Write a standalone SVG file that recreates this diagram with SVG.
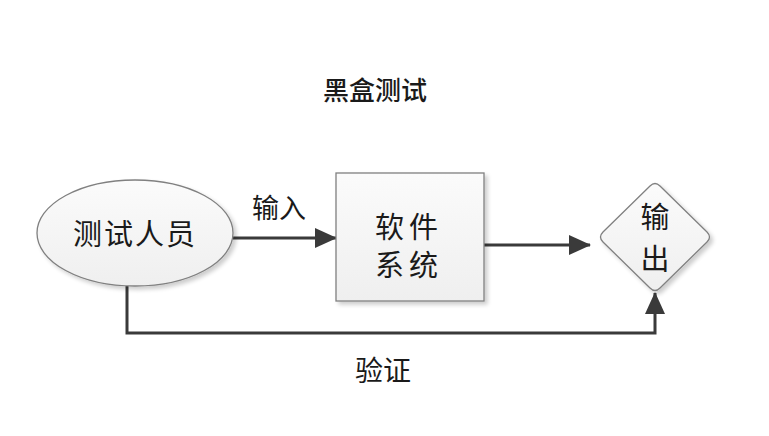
<svg xmlns="http://www.w3.org/2000/svg" width="769" height="436" viewBox="0 0 769 436">
<style>
.shape{fill:url(#g);stroke:#808080;stroke-width:1.3}
.lbl{font-family:"Noto Sans CJK SC","Noto Sans",sans-serif;fill:#1a1a1a;text-anchor:middle}
.conn{stroke:#3a3a3a;stroke-width:3;fill:none}
</style>
<defs>
<linearGradient id="g" x1="0" y1="0" x2="0" y2="1">
<stop offset="0" stop-color="#fbfbfb"/>
<stop offset="1" stop-color="#efefef"/>
</linearGradient>
<filter id="sh" x="-10%" y="-10%" width="130%" height="130%">
<feGaussianBlur in="SourceAlpha" stdDeviation="2"/>
<feOffset dx="3" dy="3"/>
<feComponentTransfer><feFuncA type="linear" slope="0.2"/></feComponentTransfer>
<feMerge><feMergeNode/><feMergeNode in="SourceGraphic"/></feMerge>
</filter>
<marker id="arrL" markerWidth="22" markerHeight="20" refX="21" refY="10" orient="auto" markerUnits="userSpaceOnUse">
<path d="M0,0 L22,10 L0,20 Z" fill="#3a3a3a"/>
</marker>
</defs>
<rect width="769" height="436" fill="#ffffff"/>
<text class="lbl" x="375" y="100" font-size="26" font-weight="500">黑盒测试</text>

<g id="connectors">
<line class="conn" x1="233" y1="238" x2="336" y2="238" marker-end="url(#arrL)"/>
<line class="conn" x1="484" y1="245" x2="590" y2="245" marker-end="url(#arrL)"/>
<polyline class="conn" points="127,286 127,333 655,333 655,293" marker-end="url(#arrL)"/>
<text class="lbl" x="279" y="218" font-size="27">输入</text>
<text class="lbl" x="383" y="381" font-size="28">验证</text>
</g>

<g id="tester">
<ellipse class="shape" cx="135" cy="233" rx="98" ry="53" filter="url(#sh)"/>
<text class="lbl" x="135" y="245" font-size="29" letter-spacing="2">测试人员</text>
</g>

<g id="system">
<rect class="shape" x="336" y="173" width="148" height="128" filter="url(#sh)"/>
<text class="lbl" x="409" y="238" font-size="29" letter-spacing="5">软件</text>
<text class="lbl" x="409" y="276" font-size="29" letter-spacing="5">系统</text>
</g>

<g id="output">
<path class="shape" d="M650,186 Q655,181 660,186 L707,232 Q712,237 707,242 L660,288 Q655,293 650,288 L603,242 Q598,237 603,232 Z" filter="url(#sh)"/>
<text class="lbl" x="655" y="228" font-size="29">输</text>
<text class="lbl" x="655" y="270" font-size="29">出</text>
</g>
</svg>
